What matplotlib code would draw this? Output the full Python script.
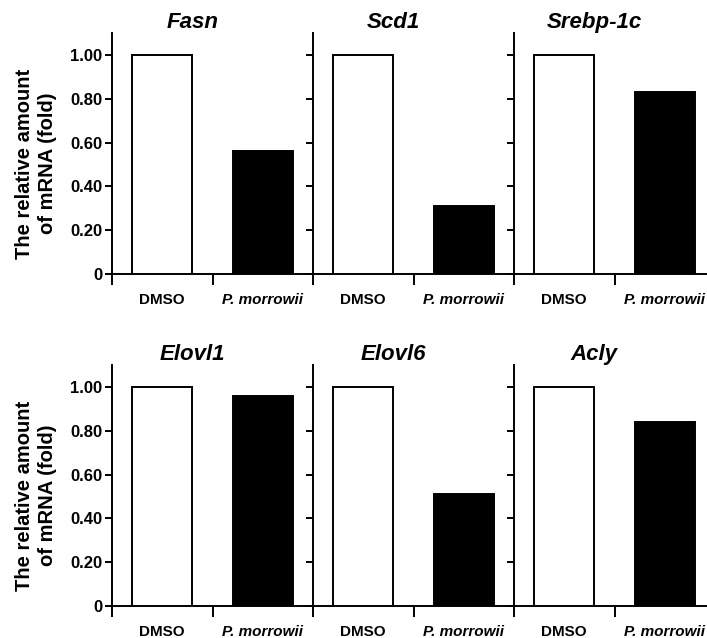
import matplotlib
matplotlib.use("Agg")
import matplotlib.pyplot as plt
from matplotlib.ticker import FixedLocator

plt.rcParams['font.family'] = ['Liberation Sans', 'DejaVu Sans']

genes_top = ["Fasn", "Scd1", "Srebp-1c"]
genes_bottom = ["Elovl1", "Elovl6", "Acly"]
groups = ["DMSO", "P. morrowii"]
dmso_values = [1.00, 1.00, 1.00, 1.00, 1.00, 1.00]
pm_values = [0.56, 0.31, 0.83, 0.96, 0.51, 0.84]
y_ticks = [0, 0.2, 0.4, 0.6, 0.8, 1.0]
y_ticklabels = ["0", "0.20", "0.40", "0.60", "0.80", "1.00"]
ylabel = "The relative amount\nof mRNA (fold)"

W, H = 707, 638
fig = plt.figure(figsize=(W / 100, H / 100), dpi=100)

panel_w = 201
spine_x = [112, 313, 514]
rows = [(274, genes_top), (606, genes_bottom)]
unit = 219.0  # px per 1.0
ymax = 1.1

idx = 0
for r, (zero_y, genes) in enumerate(rows):
    top_y = zero_y - ymax * unit
    bottom = (H - zero_y) / H
    height = (zero_y - top_y) / H
    for c, gene in enumerate(genes):
        ax = fig.add_axes([spine_x[c] / W, bottom, panel_w / W, height])
        ax.set_xlim(-0.5, 1.5)
        ax.set_ylim(0, ymax)
        vals = [dmso_values[idx], pm_values[idx]]
        ax.bar([0, 1], vals, width=0.6, color=["white", "black"],
               edgecolor="black", linewidth=1.4, zorder=3)
        for s in ["top", "right"]:
            ax.spines[s].set_visible(False)
        ax.spines["left"].set_linewidth(1.4)
        ax.spines["bottom"].set_linewidth(1.4)
        ax.set_yticks(y_ticks)
        if c == 0:
            ax.set_yticklabels(y_ticklabels, fontsize=12, fontweight="bold")
        else:
            ax.set_yticklabels([])
        ax.tick_params(axis="y", direction="out", length=5, width=1.4, pad=2)
        # x ticks
        ax.set_xticks([0, 1])
        ax.set_xticklabels(groups, fontsize=11, fontweight="bold")
        ax.get_xticklabels()[1].set_style("italic")
        ax.tick_params(axis="x", which="major", length=0, pad=14)
        ax.xaxis.set_minor_locator(FixedLocator([-0.5, 0.5]))
        ax.tick_params(axis="x", which="minor", direction="out",
                       length=8, width=1.4)
        ax.set_title(gene, fontsize=16, fontweight="bold", style="italic",
                     x=0.40, pad=4)
        if c == 0:
            ax.set_ylabel(ylabel, fontsize=14.5, fontweight="bold",
                          linespacing=1.25)
            ax.yaxis.set_label_coords(-0.274, 0.5 - 10 / (height * H))
        idx += 1

fig.savefig("out.png", dpi=100)
